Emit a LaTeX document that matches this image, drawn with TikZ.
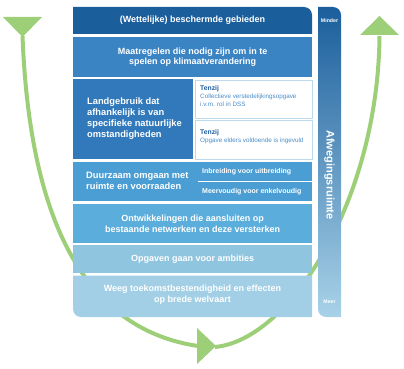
\documentclass[tikz,border=0pt]{standalone}
\usepackage{fontspec}
\setmainfont{Liberation Sans}
\definecolor{cA}{HTML}{1B5E9C}
\definecolor{cB}{HTML}{3A84C4}
\definecolor{cC}{HTML}{3179BA}
\definecolor{cD}{HTML}{4A9ED4}
\definecolor{cE}{HTML}{5BAEDC}
\definecolor{cF}{HTML}{90C5E0}
\definecolor{cG}{HTML}{A2CFE5}
\definecolor{sbmid}{HTML}{4A98CF}
\definecolor{sbbot}{HTML}{A8D2E8}
\definecolor{tzdark}{HTML}{1F5F9E}
\definecolor{tzlight}{HTML}{4A8CC8}
\definecolor{tzline}{HTML}{BCD9EE}
\definecolor{arrgreen}{HTML}{9CCF78}
\begin{document}
\begin{tikzpicture}[x=1pt,y=-1pt,
  rowbox/.style={anchor=north west, inner sep=0pt, minimum width=239pt, text=white, align=center, font=\bfseries\fontsize{9}{10.8}\selectfont},
  rowtext/.style={text=white, align=center, inner sep=0pt, font=\bfseries\fontsize{9}{10.8}\selectfont},
  lefttext/.style={text=white, align=left, anchor=west, inner sep=0pt, font=\bfseries\fontsize{9.3}{11}\selectfont},
  smalltext/.style={text=white, anchor=west, inner sep=0pt, font=\bfseries\fontsize{7}{8}\selectfont},
  tzbox/.style={anchor=north west, fill=white, draw=tzline, line width=0.8pt, minimum width=117pt, inner sep=0pt},
  tztext/.style={anchor=north west, align=left, inner sep=0pt, text=tzlight, font=\fontsize{6.3}{8}\selectfont},
  greenline/.style={draw=arrgreen, line width=4pt},
  greenhead/.style={fill=arrgreen},
  tinytext/.style={text=white, inner sep=0pt, font=\bfseries\fontsize{5.2}{6}\selectfont}]
\useasboundingbox (0,0) rectangle (404,369);

% green arrows (behind)
\coordinate (lt) at (22.5,36);
\coordinate (bl) at (198,346);
\coordinate (br) at (215,347);
\coordinate (rt) at (379.5,36);
\draw[greenline] (lt) .. controls (30,230) and (90,330) .. (bl);
\draw[greenline] (br) .. controls (290,340) and (378,200) .. (rt);
\fill[greenhead] (3,17) -- (42,17) -- (22.5,37) -- cycle;
\fill[greenhead] (197,328) -- (197,364) -- (216,346) -- cycle;
\fill[greenhead] (360,35) -- (399,35) -- (379.5,16) -- cycle;

% row 1 (rounded top-right)
\fill[cA] (73,34) -- (73,7) -- (304,7) arc[start angle=90,end angle=0,radius=8pt] -- (312,34) -- cycle;
\node[rowtext] (r1) at (192.5,20.5) {(Wettelijke) beschermde gebieden};

% row 2
\node[rowbox, fill=cB, minimum height=40pt] (r2) at (73,37) {Maatregelen die nodig zijn om in te\\spelen op klimaatverandering};

% row 3
\node[anchor=north west, fill=cC, minimum width=120pt, minimum height=80pt, inner sep=0pt] (r3) at (73,79) {};
\node[lefttext] (r3t) at (87,118.5) {Landgebruik dat\\afhankelijk is van\\specifieke natuurlijke\\omstandigheden};
\node[tzbox, minimum height=38pt] (tz1) at (194.5,79.5) {};
\node[tzbox, minimum height=38.5pt] (tz2) at (194.5,120) {};
\node[tztext] (tz1t) at (200,85.5) {{\bfseries\fontsize{6.8}{7}\selectfont\color{tzdark}Tenzij}\\Collectieve verstedelijkingsopgave\\i.v.m. rol in DSS};
\node[tztext] (tz2t) at (200,129.5) {{\bfseries\fontsize{6.8}{7}\selectfont\color{tzdark}Tenzij}\\Opgave elders voldoende is ingevuld};

% row 4
\node[rowbox, fill=cD, minimum height=39pt] (r4) at (73,162) {};
\node[lefttext] (r4t) at (86,181) {Duurzaam omgaan met\\ruimte en voorraaden};
\coordinate (d1) at (198,181.5);
\coordinate (d2) at (312,181.5);
\draw[white, line width=0.9pt] (d1) -- (d2);
\node[smalltext] (r4a) at (202,172) {Inbreiding voor uitbreiding};
\node[smalltext] (r4b) at (202,191.5) {Meervoudig voor enkelvoudig};

% row 5
\node[rowbox, fill=cE, minimum height=39.5pt] (r5) at (73,203.5) {Ontwikkelingen die aansluiten op\\bestaande netwerken en deze versterken};

% row 6
\node[rowbox, fill=cF, minimum height=28pt] (r6) at (73,245) {Opgaven gaan voor ambities};

% row 7 (rounded bottom-left)
\fill[cG] (73,275.5) -- (312,275.5) -- (312,317) -- (81,317) arc[start angle=270,end angle=180,radius=8pt] -- cycle;
\node[rowtext] (r7) at (192.5,294.5) {Weeg toekomstbestendigheid en effecten\\op brede welvaart};

% side bar
\shade[top color=cA, middle color=sbmid, bottom color=sbbot] (318,7) -- (333,7) arc[start angle=90,end angle=0,radius=8pt] -- (341,317) -- (326,317) arc[start angle=270,end angle=180,radius=8pt] -- cycle;
\node[tinytext] (mind) at (329.5,21) {Minder};
\node[tinytext] (meer) at (329.5,302) {Meer};
\node[text=white, inner sep=0pt, rotate=-90, font=\bfseries\fontsize{11}{12}\selectfont] (afw) at (329.5,175) {Afwegingsruimte};
\end{tikzpicture}
\end{document}
